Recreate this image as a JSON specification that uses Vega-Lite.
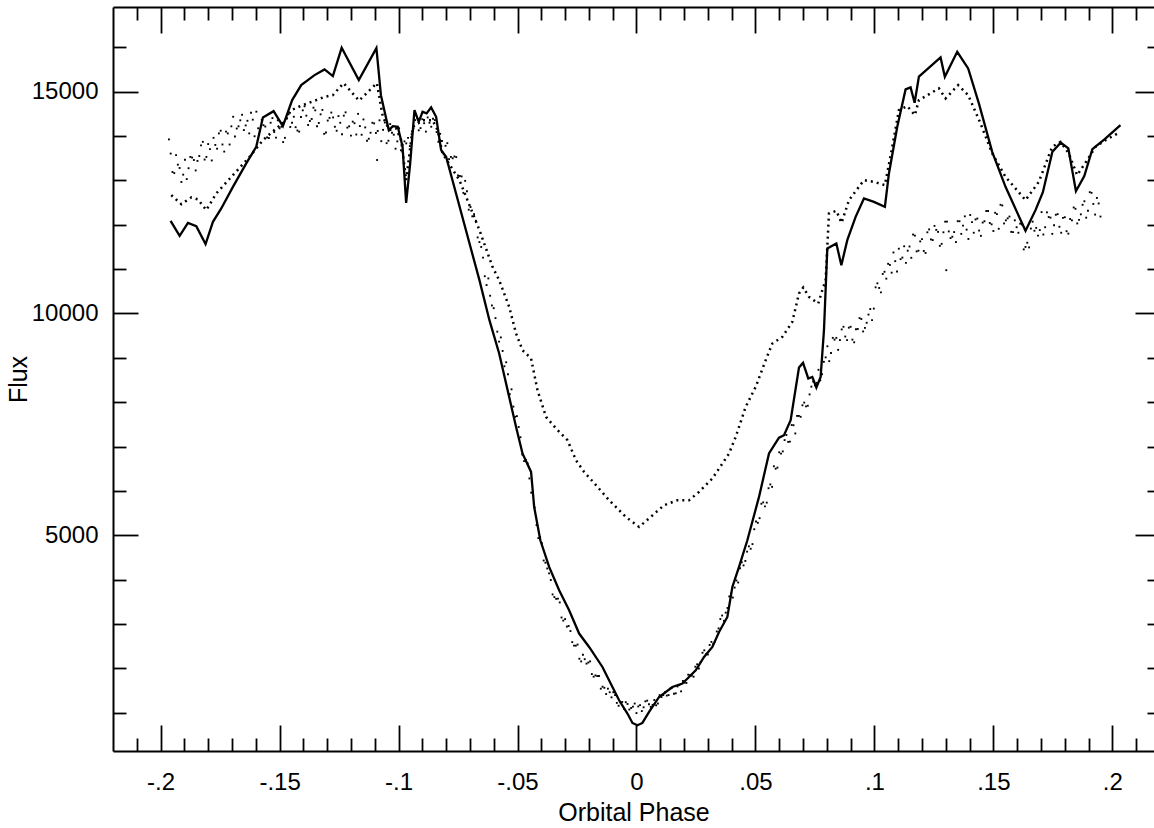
{
"$schema": "https://vega.github.io/schema/vega-lite/v6.json",
"width": 1041,
"height": 744,
"autosize": {"type": "none"},
"padding": {"left": 113, "top": 7, "right": 0, "bottom": 77},
"background": "white",
"config": {
  "view": {"stroke": null},
  "axis": {"grid": false, "domain": false, "labelFont": "Liberation Sans", "labelFontSize": 24, "labelColor": "black", "tickColor": "black", "tickWidth": 1.8, "titleFont": "Liberation Sans", "titleFontSize": 25, "titleFontWeight": "normal", "titleColor": "black", "labelOverlap": false, "labelFlush": false, "domainColor": "black", "domainWidth": 2}
},
"datasets": {
"solid": [
{"phase":-0.1958,"flux":12088},{"phase":-0.1920,"flux":11750},{"phase":-0.1885,"flux":12043},{"phase":-0.1850,"flux":11969},{"phase":-0.1811,"flux":11563},{"phase":-0.1780,"flux":12066},{"phase":-0.1745,"flux":12368},{"phase":-0.1696,"flux":12855},{"phase":-0.1640,"flux":13383},{"phase":-0.1598,"flux":13757},{"phase":-0.1570,"flux":14420},{"phase":-0.1525,"flux":14562},{"phase":-0.1486,"flux":14224},{"phase":-0.1447,"flux":14811},{"phase":-0.1409,"flux":15149},{"phase":-0.1353,"flux":15374},{"phase":-0.1311,"flux":15503},{"phase":-0.1276,"flux":15352},{"phase":-0.1239,"flux":15990},{"phase":-0.1167,"flux":15262},{"phase":-0.1093,"flux":15983},{"phase":-0.1074,"flux":14923},{"phase":-0.1041,"flux":14134},{"phase":-0.1024,"flux":14224},{"phase":-0.1003,"flux":14208},{"phase":-0.0983,"flux":13757},{"phase":-0.0968,"flux":12494},{"phase":-0.0951,"flux":13383},{"phase":-0.0933,"flux":14585},{"phase":-0.0915,"flux":14321},{"phase":-0.0899,"flux":14547},{"phase":-0.0882,"flux":14511},{"phase":-0.0863,"flux":14646},{"phase":-0.0842,"flux":14434},{"phase":-0.0821,"flux":13683},{"phase":-0.0800,"flux":13532},{"phase":-0.0660,"flux":10751},{"phase":-0.0618,"flux":9849},{"phase":-0.0577,"flux":9098},{"phase":-0.0535,"flux":8119},{"phase":-0.0506,"flux":7442},{"phase":-0.0479,"flux":6843},{"phase":-0.0443,"flux":6428},{"phase":-0.0430,"flux":5638},{"phase":-0.0404,"flux":4887},{"phase":-0.0367,"flux":4285},{"phase":-0.0325,"flux":3760},{"phase":-0.0283,"flux":3308},{"phase":-0.0241,"flux":2783},{"phase":-0.0199,"flux":2481},{"phase":-0.0143,"flux":2030},{"phase":-0.0101,"flux":1579},{"phase":-0.0073,"flux":1279},{"phase":-0.0038,"flux":979},{"phase":-0.0017,"flux":767},{"phase":0.0004,"flux":715},{"phase":0.0025,"flux":767},{"phase":0.0053,"flux":1015},{"phase":0.0095,"flux":1353},{"phase":0.0151,"flux":1579},{"phase":0.0193,"flux":1655},{"phase":0.0221,"flux":1804},{"phase":0.0249,"flux":1955},{"phase":0.0284,"flux":2255},{"phase":0.0319,"flux":2481},{"phase":0.0347,"flux":2819},{"phase":0.0382,"flux":3157},{"phase":0.0403,"flux":3834},{"phase":0.0431,"flux":4285},{"phase":0.0466,"flux":4887},{"phase":0.0515,"flux":5864},{"phase":0.0557,"flux":6843},{"phase":0.0599,"flux":7199},{"phase":0.0620,"flux":7255},{"phase":0.0648,"flux":7594},{"phase":0.0683,"flux":8782},{"phase":0.0700,"flux":8886},{"phase":0.0722,"flux":8534},{"phase":0.0739,"flux":8570},{"phase":0.0756,"flux":8331},{"phase":0.0774,"flux":8570},{"phase":0.0788,"flux":9623},{"phase":0.0802,"flux":11466},{"phase":0.0840,"flux":11579},{"phase":0.0861,"flux":11089},{"phase":0.0886,"flux":11653},{"phase":0.0921,"flux":12179},{"phase":0.0956,"flux":12594},{"phase":0.0998,"flux":12517},{"phase":0.1044,"flux":12404},{"phase":0.1061,"flux":13157},{"phase":0.1096,"flux":14208},{"phase":0.1131,"flux":15052},{"phase":0.1152,"flux":15097},{"phase":0.1169,"flux":14750},{"phase":0.1187,"flux":15340},{"phase":0.1278,"flux":15773},{"phase":0.1296,"flux":15336},{"phase":0.1348,"flux":15900},{"phase":0.1394,"flux":15525},{"phase":0.1439,"flux":14736},{"phase":0.1495,"flux":13645},{"phase":0.1551,"flux":12855},{"phase":0.1635,"flux":11863},{"phase":0.1677,"flux":12330},{"phase":0.1708,"flux":12735},{"phase":0.1748,"flux":13645},{"phase":0.1783,"flux":13852},{"phase":0.1815,"flux":13721},{"phase":0.1847,"flux":12758},{"phase":0.1882,"flux":13096},{"phase":0.1916,"flux":13705},{"phase":0.1968,"flux":13931},{"phase":0.2034,"flux":14247}
],
"dotted": [
{"phase":-0.1955,"flux":12668},{"phase":-0.1913,"flux":12465},{"phase":-0.1871,"flux":12616},{"phase":-0.1843,"flux":12571},{"phase":-0.1808,"flux":12330},{"phase":-0.1766,"flux":12706},{"phase":-0.1696,"flux":13119},{"phase":-0.1626,"flux":13532},{"phase":-0.1570,"flux":13908},{"phase":-0.1514,"flux":14172},{"phase":-0.1479,"flux":14321},{"phase":-0.1451,"flux":14585},{"phase":-0.1402,"flux":14698},{"phase":-0.1346,"flux":14811},{"phase":-0.1311,"flux":14885},{"phase":-0.1276,"flux":14923},{"phase":-0.1231,"flux":15194},{"phase":-0.1166,"flux":14799},{"phase":-0.1091,"flux":15194},{"phase":-0.1066,"flux":14434},{"phase":-0.1038,"flux":14134},{"phase":-0.1010,"flux":14172},{"phase":-0.0989,"flux":13908},{"phase":-0.0968,"flux":13006},{"phase":-0.0940,"flux":14208},{"phase":-0.0899,"flux":14359},{"phase":-0.0857,"flux":14359},{"phase":-0.0836,"flux":14134},{"phase":-0.0815,"flux":13608},{"phase":-0.0744,"flux":13006},{"phase":-0.0660,"flux":11879},{"phase":-0.0605,"flux":11051},{"phase":-0.0577,"flux":10751},{"phase":-0.0535,"flux":10149},{"phase":-0.0506,"flux":9549},{"phase":-0.0479,"flux":9172},{"phase":-0.0443,"flux":8985},{"phase":-0.0416,"flux":8270},{"phase":-0.0380,"flux":7668},{"phase":-0.0338,"flux":7406},{"phase":-0.0290,"flux":7142},{"phase":-0.0254,"flux":6691},{"phase":-0.0220,"flux":6428},{"phase":-0.0170,"flux":6128},{"phase":-0.0115,"flux":5789},{"phase":-0.0045,"flux":5413},{"phase":0.0011,"flux":5187},{"phase":0.0060,"flux":5413},{"phase":0.0116,"flux":5677},{"phase":0.0172,"flux":5789},{"phase":0.0221,"flux":5789},{"phase":0.0263,"flux":5977},{"phase":0.0319,"flux":6279},{"phase":0.0389,"flux":6843},{"phase":0.0417,"flux":7217},{"phase":0.0459,"flux":7894},{"phase":0.0501,"flux":8345},{"phase":0.0543,"flux":8947},{"phase":0.0571,"flux":9323},{"phase":0.0613,"flux":9472},{"phase":0.0655,"flux":9811},{"phase":0.0683,"flux":10451},{"phase":0.0701,"flux":10586},{"phase":0.0725,"flux":10374},{"phase":0.0764,"flux":10226},{"phase":0.0781,"flux":10525},{"phase":0.0795,"flux":10751},{"phase":0.0809,"flux":12255},{"phase":0.0840,"flux":12314},{"phase":0.0862,"flux":12043},{"phase":0.0893,"flux":12555},{"phase":0.0956,"flux":13006},{"phase":0.0998,"flux":12968},{"phase":0.1044,"flux":12893},{"phase":0.1075,"flux":13757},{"phase":0.1103,"flux":14585},{"phase":0.1138,"flux":14675},{"phase":0.1170,"flux":14472},{"phase":0.1187,"flux":14811},{"phase":0.1271,"flux":15074},{"phase":0.1299,"flux":14849},{"phase":0.1352,"flux":15149},{"phase":0.1394,"flux":14923},{"phase":0.1446,"flux":14285},{"phase":0.1495,"flux":13608},{"phase":0.1551,"flux":13081},{"phase":0.1635,"flux":12555},{"phase":0.1691,"flux":12968},{"phase":0.1747,"flux":13757},{"phase":0.1782,"flux":13870},{"phase":0.1817,"flux":13608},{"phase":0.1852,"flux":13119},{"phase":0.1894,"flux":13457},{"phase":0.1929,"flux":13757},{"phase":0.1971,"flux":13908},{"phase":0.2027,"flux":14073}
],
"scatter": [
{"phase":-0.1965,"flux":13925},{"phase":-0.1950,"flux":13190},{"phase":-0.1935,"flux":13570},{"phase":-0.1920,"flux":13280},{"phase":-0.1905,"flux":13130},{"phase":-0.1890,"flux":13030},{"phase":-0.1875,"flux":13530},{"phase":-0.1860,"flux":13460},{"phase":-0.1845,"flux":13440},{"phase":-0.1830,"flux":13790},{"phase":-0.1815,"flux":13470},{"phase":-0.1800,"flux":13820},{"phase":-0.1785,"flux":13450},{"phase":-0.1770,"flux":13800},{"phase":-0.1755,"flux":14060},{"phase":-0.1740,"flux":13810},{"phase":-0.1725,"flux":14100},{"phase":-0.1710,"flux":13810},{"phase":-0.1695,"flux":14435},{"phase":-0.1680,"flux":14170},{"phase":-0.1665,"flux":14355},{"phase":-0.1650,"flux":14135},{"phase":-0.1635,"flux":14345},{"phase":-0.1620,"flux":14525},{"phase":-0.1605,"flux":13995},{"phase":-0.1590,"flux":14175},{"phase":-0.1575,"flux":14365},{"phase":-0.1560,"flux":14215},{"phase":-0.1545,"flux":13955},{"phase":-0.1530,"flux":14405},{"phase":-0.1515,"flux":13965},{"phase":-0.1500,"flux":14175},{"phase":-0.1485,"flux":13865},{"phase":-0.1470,"flux":14395},{"phase":-0.1455,"flux":14205},{"phase":-0.1440,"flux":14435},{"phase":-0.1425,"flux":14125},{"phase":-0.1410,"flux":14430},{"phase":-0.1395,"flux":14670},{"phase":-0.1380,"flux":14250},{"phase":-0.1365,"flux":14385},{"phase":-0.1350,"flux":14580},{"phase":-0.1335,"flux":14295},{"phase":-0.1320,"flux":14590},{"phase":-0.1305,"flux":14080},{"phase":-0.1290,"flux":14410},{"phase":-0.1275,"flux":14420},{"phase":-0.1260,"flux":14120},{"phase":-0.1245,"flux":14300},{"phase":-0.1230,"flux":14460},{"phase":-0.1215,"flux":14190},{"phase":-0.1200,"flux":14010},{"phase":-0.1185,"flux":14290},{"phase":-0.1170,"flux":14500},{"phase":-0.1155,"flux":14030},{"phase":-0.1140,"flux":14195},{"phase":-0.1125,"flux":13940},{"phase":-0.1110,"flux":14300},{"phase":-0.1095,"flux":14070},{"phase":-0.1090,"flux":13460},{"phase":-0.1080,"flux":14355},{"phase":-0.1065,"flux":14140},{"phase":-0.1050,"flux":13840},{"phase":-0.1035,"flux":14270},{"phase":-0.1020,"flux":14030},{"phase":-0.1005,"flux":13880},{"phase":-0.0990,"flux":13680},{"phase":-0.0975,"flux":13880},{"phase":-0.0960,"flux":13960},{"phase":-0.0945,"flux":14040},{"phase":-0.0930,"flux":14360},{"phase":-0.0915,"flux":14130},{"phase":-0.0900,"flux":14380},{"phase":-0.0885,"flux":14100},{"phase":-0.0870,"flux":14300},{"phase":-0.0855,"flux":14390},{"phase":-0.0840,"flux":14090},{"phase":-0.0825,"flux":14050},{"phase":-0.0810,"flux":13590},{"phase":-0.0795,"flux":13840},{"phase":-0.0780,"flux":13530},{"phase":-0.0765,"flux":13540},{"phase":-0.0750,"flux":13110},{"phase":-0.0735,"flux":13090},{"phase":-0.0720,"flux":12990},{"phase":-0.0705,"flux":12340},{"phase":-0.0690,"flux":12190},{"phase":-0.0675,"flux":12090},{"phase":-0.0660,"flux":11610},{"phase":-0.0645,"flux":11260},{"phase":-0.0630,"flux":10640},{"phase":-0.0615,"flux":10400},{"phase":-0.0600,"flux":10120},{"phase":-0.0585,"flux":9590},{"phase":-0.0570,"flux":9460},{"phase":-0.0555,"flux":8810},{"phase":-0.0540,"flux":8630},{"phase":-0.0525,"flux":8290},{"phase":-0.0510,"flux":7670},{"phase":-0.0495,"flux":7440},{"phase":-0.0480,"flux":6820},{"phase":-0.0465,"flux":6700},{"phase":-0.0450,"flux":6280},{"phase":-0.0435,"flux":5980},{"phase":-0.0420,"flux":5230},{"phase":-0.0405,"flux":4960},{"phase":-0.0390,"flux":4430},{"phase":-0.0375,"flux":4250},{"phase":-0.0360,"flux":3990},{"phase":-0.0345,"flux":3605},{"phase":-0.0330,"flux":3570},{"phase":-0.0315,"flux":3145},{"phase":-0.0300,"flux":3110},{"phase":-0.0285,"flux":2955},{"phase":-0.0270,"flux":2590},{"phase":-0.0255,"flux":2510},{"phase":-0.0240,"flux":2215},{"phase":-0.0225,"flux":2305},{"phase":-0.0210,"flux":2105},{"phase":-0.0195,"flux":2155},{"phase":-0.0180,"flux":1810},{"phase":-0.0165,"flux":1825},{"phase":-0.0150,"flux":1540},{"phase":-0.0135,"flux":1560},{"phase":-0.0120,"flux":1540},{"phase":-0.0105,"flux":1345},{"phase":-0.0090,"flux":1395},{"phase":-0.0075,"flux":1155},{"phase":-0.0060,"flux":1240},{"phase":-0.0045,"flux":1235},{"phase":-0.0030,"flux":1070},{"phase":-0.0015,"flux":1135},{"phase":0.0000,"flux":990},{"phase":0.0015,"flux":1170},{"phase":0.0030,"flux":1120},{"phase":0.0045,"flux":1270},{"phase":0.0060,"flux":1130},{"phase":0.0075,"flux":1285},{"phase":0.0090,"flux":1205},{"phase":0.0105,"flux":1350},{"phase":0.0120,"flux":1460},{"phase":0.0135,"flux":1395},{"phase":0.0150,"flux":1565},{"phase":0.0165,"flux":1435},{"phase":0.0180,"flux":1620},{"phase":0.0195,"flux":1715},{"phase":0.0210,"flux":1670},{"phase":0.0225,"flux":1845},{"phase":0.0240,"flux":1810},{"phase":0.0255,"flux":2090},{"phase":0.0270,"flux":2140},{"phase":0.0285,"flux":2405},{"phase":0.0300,"flux":2310},{"phase":0.0315,"flux":2595},{"phase":0.0330,"flux":2600},{"phase":0.0345,"flux":2900},{"phase":0.0360,"flux":3190},{"phase":0.0375,"flux":3255},{"phase":0.0390,"flux":3620},{"phase":0.0405,"flux":3595},{"phase":0.0420,"flux":3980},{"phase":0.0435,"flux":4255},{"phase":0.0450,"flux":4320},{"phase":0.0465,"flux":4630},{"phase":0.0480,"flux":4695},{"phase":0.0495,"flux":5135},{"phase":0.0510,"flux":5280},{"phase":0.0525,"flux":5710},{"phase":0.0540,"flux":5650},{"phase":0.0555,"flux":6060},{"phase":0.0570,"flux":6090},{"phase":0.0585,"flux":6500},{"phase":0.0600,"flux":6870},{"phase":0.0615,"flux":6890},{"phase":0.0630,"flux":7260},{"phase":0.0645,"flux":7110},{"phase":0.0660,"flux":7480},{"phase":0.0675,"flux":7690},{"phase":0.0690,"flux":7670},{"phase":0.0705,"flux":7990},{"phase":0.0720,"flux":7920},{"phase":0.0735,"flux":8350},{"phase":0.0750,"flux":8380},{"phase":0.0765,"flux":8730},{"phase":0.0780,"flux":8630},{"phase":0.0795,"flux":9010},{"phase":0.0810,"flux":8925},{"phase":0.0825,"flux":9450},{"phase":0.0840,"flux":9450},{"phase":0.0855,"flux":9400},{"phase":0.0870,"flux":9700},{"phase":0.0885,"flux":9400},{"phase":0.0900,"flux":9700},{"phase":0.0915,"flux":9350},{"phase":0.0930,"flux":9650},{"phase":0.0945,"flux":9875},{"phase":0.0960,"flux":9675},{"phase":0.0975,"flux":9975},{"phase":0.0990,"flux":9850},{"phase":0.1005,"flux":10590},{"phase":0.1020,"flux":10575},{"phase":0.1035,"flux":10890},{"phase":0.1050,"flux":10785},{"phase":0.1065,"flux":11095},{"phase":0.1080,"flux":11375},{"phase":0.1095,"flux":10945},{"phase":0.1110,"flux":11225},{"phase":0.1125,"flux":11515},{"phase":0.1140,"flux":11415},{"phase":0.1155,"flux":11255},{"phase":0.1170,"flux":11755},{"phase":0.1185,"flux":11415},{"phase":0.1200,"flux":11675},{"phase":0.1215,"flux":11365},{"phase":0.1230,"flux":11895},{"phase":0.1245,"flux":11655},{"phase":0.1260,"flux":11885},{"phase":0.1275,"flux":11525},{"phase":0.1290,"flux":11830},{"phase":0.1302,"flux":10976},{"phase":0.1305,"flux":12070},{"phase":0.1320,"flux":11700},{"phase":0.1335,"flux":11835},{"phase":0.1350,"flux":12080},{"phase":0.1365,"flux":11795},{"phase":0.1380,"flux":12190},{"phase":0.1395,"flux":11680},{"phase":0.1410,"flux":12060},{"phase":0.1425,"flux":12120},{"phase":0.1440,"flux":11870},{"phase":0.1455,"flux":12050},{"phase":0.1470,"flux":12310},{"phase":0.1485,"flux":12040},{"phase":0.1500,"flux":11860},{"phase":0.1515,"flux":12240},{"phase":0.1530,"flux":12450},{"phase":0.1545,"flux":12030},{"phase":0.1560,"flux":12145},{"phase":0.1575,"flux":11840},{"phase":0.1590,"flux":12100},{"phase":0.1605,"flux":11820},{"phase":0.1620,"flux":12005},{"phase":0.1635,"flux":11500},{"phase":0.1650,"flux":11490},{"phase":0.1665,"flux":12070},{"phase":0.1680,"flux":11930},{"phase":0.1695,"flux":11880},{"phase":0.1710,"flux":11780},{"phase":0.1725,"flux":12280},{"phase":0.1740,"flux":12160},{"phase":0.1755,"flux":11990},{"phase":0.1770,"flux":12240},{"phase":0.1785,"flux":11820},{"phase":0.1800,"flux":12170},{"phase":0.1815,"flux":11800},{"phase":0.1830,"flux":12100},{"phase":0.1845,"flux":12360},{"phase":0.1860,"flux":12110},{"phase":0.1875,"flux":12450},{"phase":0.1890,"flux":12160},{"phase":0.1905,"flux":12735},{"phase":0.1920,"flux":12470},{"phase":0.1935,"flux":12605},{"phase":0.1950,"flux":12185},
{"phase":-0.19575,"flux":13605},{"phase":-0.19425,"flux":13165},{"phase":-0.19275,"flux":13355},{"phase":-0.19125,"flux":12965},{"phase":-0.18975,"flux":13465},{"phase":-0.18825,"flux":13275},{"phase":-0.18675,"flux":13515},{"phase":-0.18525,"flux":13225},{"phase":-0.18375,"flux":13550},{"phase":-0.18225,"flux":13870},{"phase":-0.18075,"flux":13530},{"phase":-0.17925,"flux":13705},{"phase":-0.17775,"flux":13960},{"phase":-0.17625,"flux":13715},{"phase":-0.17475,"flux":14120},{"phase":-0.17325,"flux":13650},{"phase":-0.17175,"flux":14060},{"phase":-0.17025,"flux":14220},{"phase":-0.16875,"flux":13990},{"phase":-0.16725,"flux":14220},{"phase":-0.16575,"flux":14480},{"phase":-0.16425,"flux":14240},{"phase":-0.16275,"flux":14060},{"phase":-0.16125,"flux":14370},{"phase":-0.15975,"flux":14550},{"phase":-0.15825,"flux":14110},{"phase":-0.15675,"flux":14245},{"phase":-0.15525,"flux":13970},{"phase":-0.15375,"flux":14300},{"phase":-0.15225,"flux":14090},{"phase":-0.15075,"flux":14355},{"phase":-0.14925,"flux":14210},{"phase":-0.14775,"flux":13960},{"phase":-0.14625,"flux":14490},{"phase":-0.14475,"flux":14300},{"phase":-0.14325,"flux":14200},{"phase":-0.14175,"flux":14100},{"phase":-0.14025,"flux":14580},{"phase":-0.13875,"flux":14460},{"phase":-0.13725,"flux":14340},{"phase":-0.13575,"flux":14640},{"phase":-0.13425,"flux":14220},{"phase":-0.13275,"flux":14490},{"phase":-0.13125,"flux":14050},{"phase":-0.12975,"flux":14350},{"phase":-0.12825,"flux":14530},{"phase":-0.12675,"flux":14210},{"phase":-0.12525,"flux":14450},{"phase":-0.12375,"flux":14040},{"phase":-0.12225,"flux":14535},{"phase":-0.12075,"flux":14220},{"phase":-0.11925,"flux":14325},{"phase":-0.11775,"flux":14035},{"phase":-0.11625,"flux":14225},{"phase":-0.11475,"flux":14375},{"phase":-0.11325,"flux":13895},{"phase":-0.11175,"flux":14075},{"phase":-0.11025,"flux":14285},{"phase":-0.10875,"flux":14115},{"phase":-0.10725,"flux":13885},{"phase":-0.10575,"flux":14305},{"phase":-0.10425,"flux":13895},{"phase":-0.10275,"flux":14075},{"phase":-0.10125,"flux":13715},{"phase":-0.09975,"flux":14175},{"phase":-0.09825,"flux":13805},{"phase":-0.09675,"flux":13835},{"phase":-0.09525,"flux":13775},{"phase":-0.09375,"flux":14170},{"phase":-0.09225,"flux":14410},{"phase":-0.09075,"flux":14180},{"phase":-0.08925,"flux":14290},{"phase":-0.08775,"flux":14420},{"phase":-0.08625,"flux":14210},{"phase":-0.08475,"flux":14360},{"phase":-0.08325,"flux":13870},{"phase":-0.08175,"flux":13890},{"phase":-0.08025,"flux":13780},{"phase":-0.07875,"flux":13480},{"phase":-0.07725,"flux":13500},{"phase":-0.07575,"flux":13525},{"phase":-0.07425,"flux":13100},{"phase":-0.07275,"flux":12720},{"phase":-0.07125,"flux":12755},
{"phase":-0.06975,"flux":12400},{"phase":-0.06825,"flux":12240},{"phase":-0.06675,"flux":11715},{"phase":-0.06525,"flux":11500},{"phase":-0.06375,"flux":10840},{"phase":-0.06225,"flux":10790},{"phase":-0.06075,"flux":10180},{"phase":-0.05925,"flux":9895},{"phase":-0.05775,"flux":9365},{"phase":-0.05625,"flux":9155},{"phase":-0.05475,"flux":8900},{"phase":-0.05325,"flux":8180},{"phase":-0.05175,"flux":7900},{"phase":-0.05025,"flux":7685},{"phase":-0.04875,"flux":7210},{"phase":-0.04725,"flux":6670},{"phase":-0.04575,"flux":6620},{"phase":-0.04425,"flux":5960},{"phase":-0.04275,"flux":5625},{"phase":-0.04125,"flux":4935},{"phase":-0.03975,"flux":4820},{"phase":-0.03825,"flux":4380},{"phase":-0.03675,"flux":4140},{"phase":-0.03525,"flux":3665},{"phase":-0.03375,"flux":3565},{"phase":-0.03225,"flux":3485},{"phase":-0.03075,"flux":3075},{"phase":-0.02925,"flux":2940},{"phase":-0.02775,"flux":2840},{"phase":-0.02625,"flux":2510},{"phase":-0.02475,"flux":2535},{"phase":-0.02325,"flux":2155},{"phase":-0.02175,"flux":2205},{"phase":-0.02025,"flux":2130},{"phase":-0.01875,"flux":1870},{"phase":-0.01725,"flux":1840},{"phase":-0.01575,"flux":1825},{"phase":-0.01425,"flux":1585},{"phase":-0.01275,"flux":1420},{"phase":-0.01125,"flux":1460},{"phase":-0.00975,"flux":1460},{"phase":-0.00825,"flux":1220},{"phase":-0.00675,"flux":1235},{"phase":-0.00525,"flux":1085},{"phase":-0.00375,"flux":1195},{"phase":-0.00225,"flux":1105},{"phase":-0.00075,"flux":1205},{"phase":0.00075,"flux":1140},{"phase":0.00225,"flux":1035},{"phase":0.00375,"flux":1255},{"phase":0.00525,"flux":1190},{"phase":0.00675,"flux":1175},{"phase":0.00825,"flux":1165},{"phase":0.00975,"flux":1395},{"phase":0.01125,"flux":1395},{"phase":0.01275,"flux":1385},{"phase":0.01425,"flux":1545},{"phase":0.01575,"flux":1425},{"phase":0.01725,"flux":1590},{"phase":0.01875,"flux":1480},{"phase":0.02025,"flux":1675},{"phase":0.02175,"flux":1855},{"phase":0.02325,"flux":1835},{"phase":0.02475,"flux":2035},{"phase":0.02625,"flux":1995},{"phase":0.02775,"flux":2350},{"phase":0.02925,"flux":2320},{"phase":0.03075,"flux":2525},{"phase":0.03225,"flux":2550},{"phase":0.03375,"flux":2830},{"phase":0.03525,"flux":3110},{"phase":0.03675,"flux":3070},{"phase":0.03825,"flux":3360},{"phase":0.03975,"flux":3685},{"phase":0.04125,"flux":3820},{"phase":0.04275,"flux":3935},{"phase":0.04425,"flux":4390},{"phase":0.04575,"flux":4420},{"phase":0.04725,"flux":4750},{"phase":0.04875,"flux":4800},{"phase":0.05025,"flux":5310},{"phase":0.05175,"flux":5385},{"phase":0.05325,"flux":5740},{"phase":0.05475,"flux":5735},{"phase":0.05625,"flux":6145},{"phase":0.05775,"flux":6555},{"phase":0.05925,"flux":6525},{"phase":0.06075,"flux":6840},{"phase":0.06225,"flux":7145},{"phase":0.06375,"flux":7105},{"phase":0.06525,"flux":7485},{"phase":0.06675,"flux":7295},{"phase":0.06825,"flux":7690},{"phase":0.06975,"flux":7930},{"phase":0.07125,"flux":7905},{"phase":0.07275,"flux":8175},{"phase":0.07425,"flux":8465},{"phase":0.07575,"flux":8435},{"phase":0.07725,"flux":8490},{"phase":0.07875,"flux":8910},
{"phase":0.08025,"flux":9260},{"phase":0.08175,"flux":9110},{"phase":0.08325,"flux":9410},{"phase":0.08475,"flux":9180},{"phase":0.08625,"flux":9640},{"phase":0.08775,"flux":9480},{"phase":0.08925,"flux":9680},{"phase":0.09075,"flux":9410},{"phase":0.09225,"flux":9645},{"phase":0.09375,"flux":9895},{"phase":0.09525,"flux":9595},{"phase":0.09675,"flux":9790},{"phase":0.09825,"flux":10100},{"phase":0.09975,"flux":10110},{"phase":0.10125,"flux":10680},{"phase":0.10275,"flux":10475},{"phase":0.10425,"flux":10940},{"phase":0.10575,"flux":11120},{"phase":0.10725,"flux":10920},{"phase":0.10875,"flux":11180},{"phase":0.11025,"flux":11460},{"phase":0.11175,"flux":11260},{"phase":0.11325,"flux":11140},{"phase":0.11475,"flux":11510},{"phase":0.11625,"flux":11780},{"phase":0.11775,"flux":11400},{"phase":0.11925,"flux":11625},{"phase":0.12075,"flux":11410},{"phase":0.12225,"flux":11830},{"phase":0.12375,"flux":11670},{"phase":0.12525,"flux":11975},{"phase":0.12675,"flux":11840},{"phase":0.12825,"flux":11570},{"phase":0.12975,"flux":12070},{"phase":0.13125,"flux":11850},{"phase":0.13275,"flux":11730},{"phase":0.13425,"flux":11610},{"phase":0.13575,"flux":12080},{"phase":0.13725,"flux":11980},{"phase":0.13875,"flux":11890},{"phase":0.14025,"flux":12220},{"phase":0.14175,"flux":11820},{"phase":0.14325,"flux":12140},{"phase":0.14475,"flux":11750},{"phase":0.14625,"flux":12080},{"phase":0.14775,"flux":12310},{"phase":0.14925,"flux":12010},{"phase":0.15075,"flux":12270},{"phase":0.15225,"flux":11910},{"phase":0.15375,"flux":12435},{"phase":0.15525,"flux":12100},{"phase":0.15675,"flux":12185},{"phase":0.15825,"flux":11835},{"phase":0.15975,"flux":11945},{"phase":0.16125,"flux":12025},{"phase":0.16275,"flux":11445},{"phase":0.16425,"flux":11595},{"phase":0.16575,"flux":11915},{"phase":0.16725,"flux":11865},{"phase":0.16875,"flux":11755},{"phase":0.17025,"flux":12285},{"phase":0.17175,"flux":11945},{"phase":0.17325,"flux":12175},{"phase":0.17475,"flux":11795},{"phase":0.17625,"flux":12225},{"phase":0.17775,"flux":11955},{"phase":0.17925,"flux":12155},{"phase":0.18075,"flux":11855},{"phase":0.18225,"flux":12130},{"phase":0.18375,"flux":12390},{"phase":0.18525,"flux":12030},{"phase":0.18675,"flux":12235},{"phase":0.18825,"flux":12530},{"phase":0.18975,"flux":12315},{"phase":0.19125,"flux":12720},{"phase":0.19275,"flux":12230},{"phase":0.19425,"flux":12480}
]
},
"layer": [
{
  "data": {"name": "scatter"},
  "mark": {"type": "point", "shape": "square", "filled": true, "size": 3.5, "color": "black", "opacity": 1},
  "encoding": {
    "x": {"field": "phase", "type": "quantitative", "scale": {"domain": [-0.22, 0.2175], "nice": false, "zero": false},
      "axis": {"orient": "bottom", "values": [-0.2,-0.15,-0.1,-0.05,0,0.05,0.1,0.15,0.2], "tickSize": -26, "labelPadding": 45,
        "labelExpr": "replace(replace(format(datum.value, '.2~f'), '\u2212', '-'), '0.', '.')",
        "title": "Orbital Phase", "titlePadding": 6, "domain": true}},
    "y": {"field": "flux", "type": "quantitative", "scale": {"domain": [135, 16910], "nice": false, "zero": false},
      "axis": {"orient": "left", "values": [5000, 10000, 15000], "tickSize": -25, "labelPadding": 40,
        "labelExpr": "format(datum.value, 'd')", "title": "Flux", "titlePadding": 0, "domain": true}}
  }
},
{
  "data": {"name": "dotted"},
  "mark": {"type": "line", "color": "black", "strokeWidth": 2.5, "strokeDash": [2, 4]},
  "encoding": {
    "x": {"field": "phase", "type": "quantitative",
      "axis": {"orient": "bottom", "values": [-0.21,-0.19,-0.18,-0.17,-0.16,-0.14,-0.13,-0.12,-0.11,-0.09,-0.08,-0.07,-0.06,-0.04,-0.03,-0.02,-0.01,0.01,0.02,0.03,0.04,0.06,0.07,0.08,0.09,0.11,0.12,0.13,0.14,0.16,0.17,0.18,0.19,0.21], "tickSize": -13, "labels": false, "title": null}},
    "y": {"field": "flux", "type": "quantitative",
      "axis": {"orient": "left", "values": [1000,2000,3000,4000,6000,7000,8000,9000,11000,12000,13000,14000,16000], "tickSize": -13, "labels": false, "title": null}}
  }
},
{
  "data": {"name": "solid"},
  "mark": {"type": "line", "color": "black", "strokeWidth": 2.3},
  "encoding": {
    "x": {"field": "phase", "type": "quantitative",
      "axis": {"orient": "top", "values": [-0.2,-0.15,-0.1,-0.05,0,0.05,0.1,0.15,0.2], "tickSize": -26, "labels": false, "title": null, "domain": true}},
    "y": {"field": "flux", "type": "quantitative",
      "axis": {"orient": "right", "offset": 6, "values": [5000, 10000, 15000], "tickSize": -25, "labels": false, "title": null}}
  }
},
{
  "data": {"name": "solid"},
  "mark": {"type": "line", "color": "black", "opacity": 0},
  "encoding": {
    "x": {"field": "phase", "type": "quantitative",
      "axis": {"orient": "top", "values": [-0.21,-0.19,-0.18,-0.17,-0.16,-0.14,-0.13,-0.12,-0.11,-0.09,-0.08,-0.07,-0.06,-0.04,-0.03,-0.02,-0.01,0.01,0.02,0.03,0.04,0.06,0.07,0.08,0.09,0.11,0.12,0.13,0.14,0.16,0.17,0.18,0.19,0.21], "tickSize": -13, "labels": false, "title": null}},
    "y": {"field": "flux", "type": "quantitative",
      "axis": {"orient": "right", "offset": 6, "values": [1000,2000,3000,4000,6000,7000,8000,9000,11000,12000,13000,14000,16000], "tickSize": -13, "labels": false, "title": null}}
  }
}
],
"resolve": {"axis": {"x": "independent", "y": "independent"}}
}
